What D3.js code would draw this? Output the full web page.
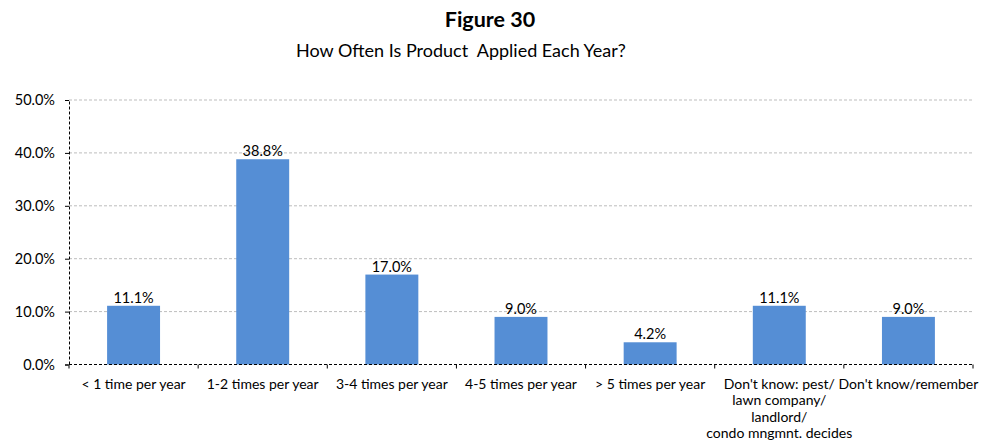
<!DOCTYPE html>
<html><head><meta charset="utf-8">
<script src="https://cdn.jsdelivr.net/npm/d3@7"></script>
<style>body{margin:0;background:#fff;}svg{display:block;font-family:Lato,"Open Sans",sans-serif;}</style>
</head><body>
<svg id="c" width="982" height="447"></svg>
<script>
const categories = ["< 1 time per year","1-2 times per year","3-4 times per year","4-5 times per year","> 5 times per year","Don't know: pest/|lawn company/|landlord/|condo mngmnt. decides","Don't know/remember"];
const values = [11.1, 38.8, 17.0, 9.0, 4.2, 11.1, 9.0];
const yTicks = [0, 10, 20, 30, 40, 50];
const title = "Figure 30";
const subtitle = "How Often Is Product  Applied Each Year?";

const svg = d3.select("#c");
const L = 69, R = 973, T = 100, B = 364.5;
const x = d3.scaleBand().domain(categories).range([L, R]).paddingInner(0.59).paddingOuter(0.295);
const y = d3.scaleLinear().domain([0, 50]).range([B, T]);

svg.append("text").attr("x", 490).attr("y", 27).attr("text-anchor","middle")
  .attr("font-size", 21.5).attr("font-weight","bold").text(title);
svg.append("text").attr("x", 461).attr("y", 57).attr("text-anchor","middle")
  .attr("font-size", 18).style("white-space","pre").text(subtitle);

// gridlines
svg.append("g").selectAll("line").data(yTicks.filter(d=>d>0)).join("line")
  .attr("x1", L).attr("x2", R).attr("y1", d=>y(d)).attr("y2", d=>y(d))
  .attr("stroke","#bdbdbd").attr("stroke-dasharray","3,2").attr("stroke-width",1);

// bars
svg.append("g").selectAll("rect").data(values).join("rect")
  .attr("x",(d,i)=>x(categories[i])).attr("width",x.bandwidth())
  .attr("y",d=>y(d)).attr("height",d=>B-y(d)).attr("fill","#558ED5");

// data labels
svg.append("g").selectAll("text").data(values).join("text")
  .attr("x",(d,i)=>x(categories[i])+x.bandwidth()/2).attr("y",d=>y(d)-3)
  .attr("text-anchor","middle").attr("font-size",14.5).attr("fill","#000")
  .text(d=>d.toFixed(1)+"%");

// y axis
const yAxis = d3.axisLeft(y).tickValues(yTicks).tickFormat(d=>d.toFixed(1)+"%").tickSize(4).tickPadding(10);
const gy = svg.append("g").attr("transform",`translate(${L},0)`).call(yAxis);
gy.select(".domain").attr("stroke","#000").attr("stroke-dasharray","3,2");
gy.selectAll(".tick text").attr("font-size",14.5).attr("font-family","Lato,'Open Sans',sans-serif").attr("fill","#000");
gy.selectAll(".tick line").attr("stroke","#000");

// x axis
const gx = svg.append("g").attr("transform",`translate(0,${B})`);
gx.append("line").attr("x1",L).attr("x2",R).attr("stroke","#000").attr("stroke-dasharray","3,2");
const edges = d3.range(categories.length+1).map(i=>L+(R-L)*i/categories.length);
gx.selectAll("line.t").data(edges).join("line").attr("class","t")
  .attr("x1",d=>d).attr("x2",d=>d).attr("y1",0).attr("y2",4).attr("stroke","#000");
categories.forEach((c,i)=>{
  const t = gx.append("text").attr("x", x(c)+x.bandwidth()/2).attr("y",24)
    .attr("text-anchor","middle").attr("font-size",14).attr("fill","#000");
  c.split("|").forEach((ln,j)=>{
    t.append("tspan").attr("x", x(c)+x.bandwidth()/2).attr("dy", j?16.5:0).text(ln);
  });
});
</script>
</body></html>
